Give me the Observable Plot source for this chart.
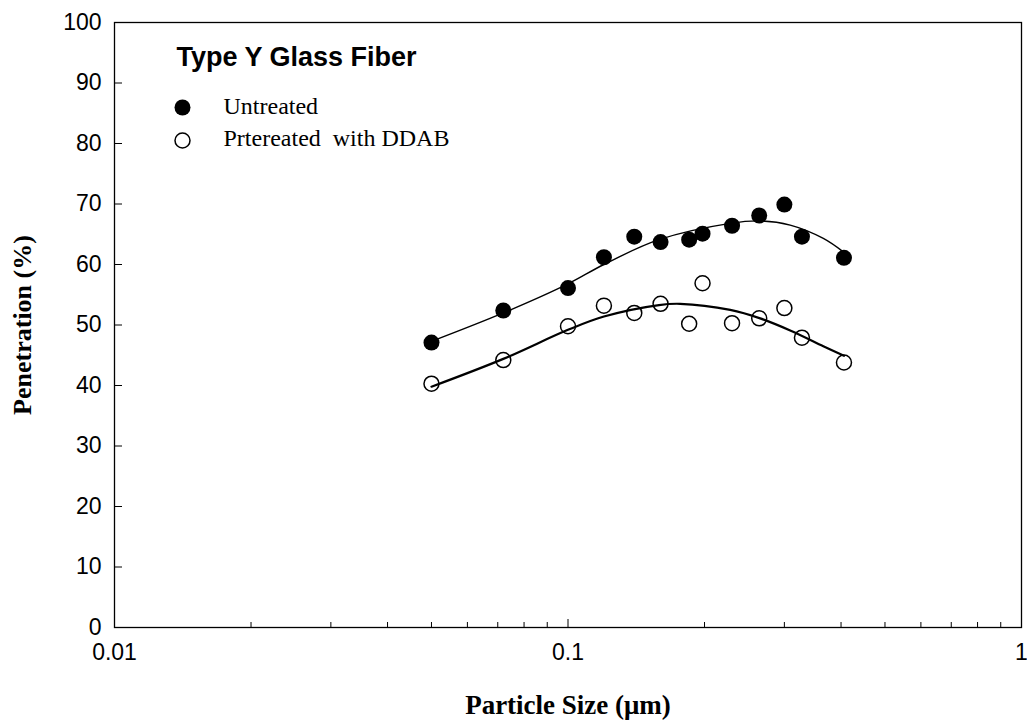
<!DOCTYPE html>
<html>
<head>
<meta charset="utf-8">
<script src="https://cdn.jsdelivr.net/npm/d3@7"></script>
<script src="https://cdn.jsdelivr.net/npm/@observablehq/plot@0.6"></script>
<style>
  html, body { margin: 0; padding: 0; background: #fff; }
  #chart { width: 1027px; height: 726px; }
</style>
</head>
<body>
<div id="chart"></div>
<script>
// ---- data ----
const particleSize = [0.05, 0.072, 0.1, 0.12, 0.14, 0.16, 0.185, 0.198, 0.23, 0.264, 0.3, 0.328, 0.406];
const untreated    = [47.1, 52.4, 56.1, 61.2, 64.6, 63.7, 64.1, 65.1, 66.4, 68.1, 69.9, 64.6, 61.1];
const pretreated   = [40.3, 44.2, 49.8, 53.2, 52.0, 53.5, 50.2, 56.9, 50.3, 51.1, 52.8, 47.9, 43.8];

// fitted curves
const untreatedFitX = [0.05, 0.072, 0.1, 0.12, 0.1587, 0.2279, 0.2653, 0.309, 0.3656, 0.406];
const untreatedFitY = [47.3, 52.0, 56.8, 60.0, 64.1, 66.8, 67.2, 66.5, 64.3, 62.0];
const pretreatedFitX = [0.05, 0.072, 0.1, 0.12, 0.1587, 0.1767, 0.2279, 0.2653, 0.309, 0.3656, 0.406];
const pretreatedFitY = [39.8, 44.4, 49.2, 51.4, 53.3, 53.5, 52.5, 51.1, 49.1, 46.5, 44.9];

const yTicks = [0, 10, 20, 30, 40, 50, 60, 70, 80, 90, 100];
const xMajorTicks = [0.01, 0.1, 1];
const xMinorTicks = [0.02, 0.03, 0.04, 0.05, 0.06, 0.07, 0.08, 0.09, 0.2, 0.3, 0.4, 0.5, 0.6, 0.7, 0.8, 0.9];

const legendTitle = "Type Y Glass Fiber";
const seriesNames = ["Untreated", "Prtereated\u00a0 with DDAB"];
const xTitle = "Particle Size (\u03bcm)";
const yTitle = "Penetration (%)";

// ---- layout ----
const width = 1027, height = 726;
const mL = 114, mR = 6, mT = 22, mB = 99;
const W = width - mL - mR, H = height - mT - mB;

const pts = (xs, ys) => xs.map((x, i) => ({x, y: ys[i]}));
const sans = "'Liberation Sans', Arial, Helvetica, sans-serif";
const serif = "'Liberation Serif', 'Times New Roman', serif";

const chart = Plot.plot({
  width, height,
  marginLeft: mL, marginRight: mR, marginTop: mT, marginBottom: mB,
  x: {type: "log", domain: [0.01, 1], label: null},
  y: {domain: [0, 100], label: null},
  style: {fontFamily: sans, fontSize: "23px", color: "black", background: "white", overflow: "visible"},
  marks: [
    Plot.axisY(yTicks, {tickSize: 0, tickPadding: 13, label: null, fontSize: 23}),
    Plot.axisX(xMajorTicks, {tickSize: 0, tickPadding: 16, label: null, fontSize: 23, tickFormat: d => String(d)}),
    Plot.tickY(yTicks, {y: d => d, insetRight: W - 8, stroke: "black"}),
    Plot.tickX(xMajorTicks, {x: d => d, insetTop: H - 8, stroke: "black"}),
    Plot.tickX(xMinorTicks, {x: d => d, insetTop: H - 5, stroke: "black"}),
    Plot.line(pts(untreatedFitX, untreatedFitY), {x: "x", y: "y", curve: "catmull-rom", stroke: "black", strokeWidth: 1.4}),
    Plot.line(pts(pretreatedFitX, pretreatedFitY), {x: "x", y: "y", curve: "catmull-rom", stroke: "black", strokeWidth: 2.2}),
    Plot.dot(pts(particleSize, pretreated), {x: "x", y: "y", r: 7.5, fill: "none", stroke: "black", strokeWidth: 1.5}),
    Plot.dot(pts(particleSize, untreated), {x: "x", y: "y", r: 8, fill: "black", stroke: "none"}),
    Plot.frame({stroke: "black", strokeWidth: 1.3}),
    // legend
    Plot.text([legendTitle], {text: d => d, frameAnchor: "top-left", dx: 62, dy: 43, lineAnchor: "bottom", textAnchor: "start", fontWeight: "bold", fontSize: 27, fontFamily: sans}),
    Plot.dot([seriesNames[0]], {frameAnchor: "top-left", dx: 68, dy: 85, r: 8, fill: "black", stroke: "none"}),
    Plot.dot([seriesNames[1]], {frameAnchor: "top-left", dx: 68, dy: 118, r: 7.5, fill: "none", stroke: "black", strokeWidth: 1.5}),
    Plot.text([seriesNames[0]], {text: d => d, frameAnchor: "top-left", dx: 109, dy: 91, lineAnchor: "bottom", textAnchor: "start", fontSize: 24, fontFamily: serif}),
    Plot.text([seriesNames[1]], {text: d => d, frameAnchor: "top-left", dx: 109, dy: 123, lineAnchor: "bottom", textAnchor: "start", fontSize: 24, fontFamily: serif}),
    // axis titles
    Plot.text([yTitle], {text: d => d, frameAnchor: "left", dx: -92, rotate: -90, lineAnchor: "middle", textAnchor: "middle", fontWeight: "bold", fontSize: 26, fontFamily: serif}),
    Plot.text([xTitle], {text: d => d, frameAnchor: "bottom", dy: 78, lineAnchor: "middle", textAnchor: "middle", fontWeight: "bold", fontSize: 27, fontFamily: serif})
  ]
});
document.getElementById("chart").appendChild(chart);
</script>
</body>
</html>
